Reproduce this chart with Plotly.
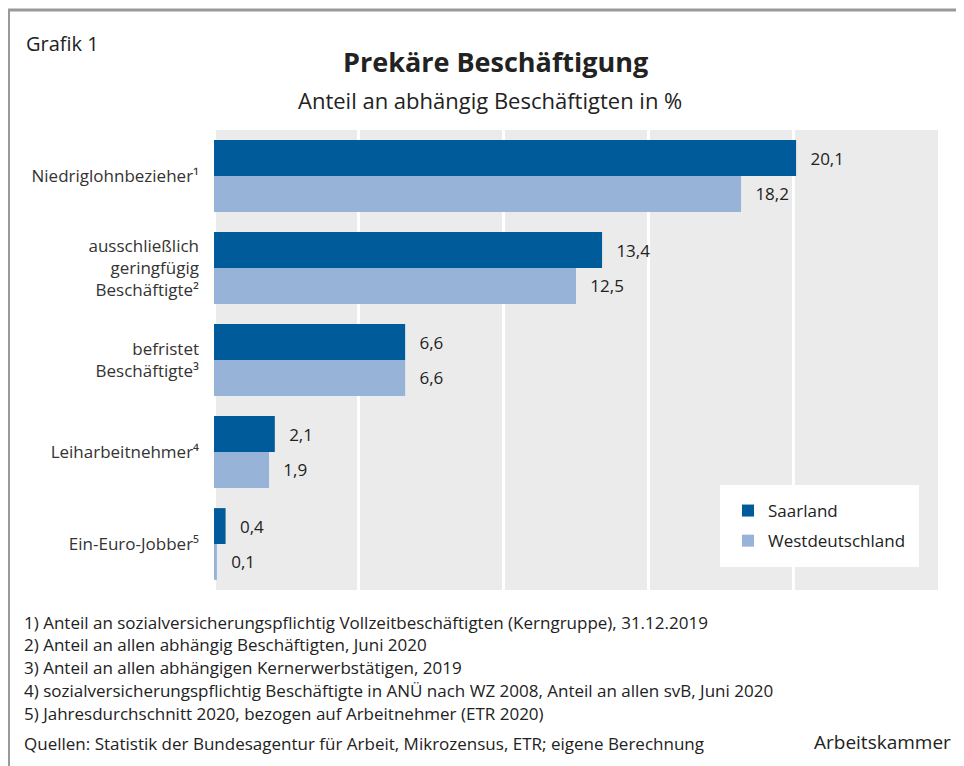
import plotly.graph_objects as go

categories = [
    "Niedriglohnbezieher¹",
    "ausschließlich<br>geringfügig<br>Beschäftigte²",
    "befristet<br>Beschäftigte³",
    "Leiharbeitnehmer⁴",
    "Ein-Euro-Jobber⁵",
]
saarland = [20.1, 13.4, 6.6, 2.1, 0.4]
westdeutschland = [18.2, 12.5, 6.6, 1.9, 0.1]
series_names = ["Saarland", "Westdeutschland"]
x_ticks = [0, 5, 10, 15, 20, 25]

footnotes = [
    "1) Anteil an sozialversicherungspflichtig Vollzeitbeschäftigten (Kerngruppe), 31.12.2019",
    "2) Anteil an allen abhängig Beschäftigten, Juni 2020",
    "3) Anteil an allen abhängigen Kernerwerbstätigen, 2019",
    "4) sozialversicherungspflichtig Beschäftigte in ANÜ nach WZ 2008, Anteil an allen svB, Juni 2020",
    "5) Jahresdurchschnitt 2020, bezogen auf Arbeitnehmer (ETR 2020)",
]
source = "Quellen: Statistik der Bundesagentur für Arbeit, Mikrozensus, ETR; eigene Berechnung"

FONT = "Open Sans"
TXT = "#222222"
DARK = "#005b9a"
LIGHT = "#97b4d8"

# page offset (body margin) and figure size
OX, OY = 8, 8
FW, FH = 964 - OX, 766 - OY
# plot area in screen pixels
L, R, T, B = 214, 938, 130, 590
W, H = R - L, B - T


def px(x):
    return (x - L) / W


def py(y):
    return (B - y) / H


def fmt(v):
    return "\u2002\u2009" + f"{v:.1f}".replace(".", ",")


fig = go.Figure()
for name, vals, col in [(series_names[0], saarland, DARK), (series_names[1], westdeutschland, LIGHT)]:
    fig.add_trace(go.Bar(
        name=name, y=categories, x=vals, orientation="h",
        marker=dict(color=col, line=dict(width=0)),
        text=[fmt(v) for v in vals], textposition="outside",
        textfont=dict(family=FONT, size=17, color=TXT),
        cliponaxis=False, legendgroup=name,
    ))

ann = []
ann.append(dict(text="Grafik 1", x=px(24), y=py(44), xanchor="left", yanchor="middle",
                font=dict(family=FONT, size=20, color=TXT)))
ann.append(dict(text="<b>Prekäre Beschäftigung</b>", x=px(495), y=py(62), xanchor="center", yanchor="middle",
                font=dict(family=FONT, size=27, color=TXT)))
ann.append(dict(text="Anteil an abhängig Beschäftigten in %", x=px(490), y=py(100), xanchor="center",
                yanchor="middle", font=dict(family=FONT, size=22, color=TXT)))
for i, f in enumerate(footnotes):
    ann.append(dict(text=f, x=px(22), y=py(622 + i * 22.8), xanchor="left", yanchor="middle",
                    font=dict(family=FONT, size=17, color=TXT)))
ann.append(dict(text=source, x=px(22), y=py(743), xanchor="left", yanchor="middle",
                font=dict(family=FONT, size=17, color=TXT)))
ann.append(dict(text="Arbeitskammer", x=px(953), y=py(742), xanchor="right", yanchor="middle",
                font=dict(family=FONT, size=19, color=TXT)))
for a in ann:
    a.update(xref="paper", yref="paper", showarrow=False)

frame_col = "#9a9a9a"
shapes = [
    dict(type="line", xref="paper", yref="paper", x0=px(8.5), x1=px(8.5), y0=py(10), y1=py(790),
         line=dict(color=frame_col, width=3)),
    dict(type="line", xref="paper", yref="paper", x0=px(7), x1=px(990), y0=py(10), y1=py(10),
         line=dict(color=frame_col, width=3)),
]

fig.update_layout(
    width=FW, height=FH,
    margin=dict(l=L - OX, r=FW - (R - OX), t=T - OY, b=FH - (B - OY)),
    paper_bgcolor="white", plot_bgcolor="#ebebeb",
    barmode="group", bargap=0.22, bargroupgap=0,
    font=dict(family=FONT, color=TXT),
    showlegend=True,
    legend=dict(x=px(720), y=py(485), xanchor="left", yanchor="top", bgcolor="white",
                bordercolor="white", borderwidth=8,
                font=dict(family=FONT, size=17, color=TXT), tracegroupgap=5,
                traceorder="grouped"),
    xaxis=dict(range=[0, 25], tickvals=x_ticks, showticklabels=False, showgrid=True,
               gridcolor="white", gridwidth=3, zeroline=True, zerolinecolor="white", zerolinewidth=3,
               fixedrange=True),
    yaxis=dict(autorange="reversed", showgrid=False, ticklabelstandoff=14,
               tickfont=dict(family=FONT, size=17, color="#333333"), fixedrange=True),
    annotations=ann, shapes=shapes,
)

fig.write_html("out.html")
